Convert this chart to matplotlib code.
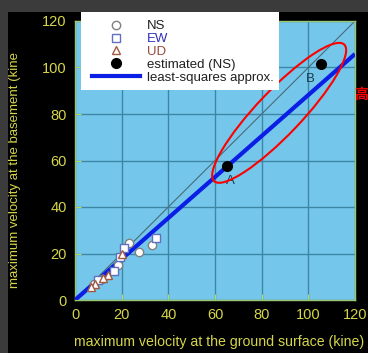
import matplotlib
matplotlib.use("Agg")
import matplotlib.pyplot as plt
from matplotlib.patches import Ellipse, Rectangle
from matplotlib.lines import Line2D

plt.rcParams['font.family'] = ['Liberation Sans', 'DejaVu Sans', 'Noto Sans CJK SC']

# data
ns_x = [23.0, 27.5, 33.0, 18.3, 11.5, 8.0]
ns_y = [24.5, 20.6, 23.5, 15.2, 9.0, 7.0]
ew_x = [21.0, 34.8, 19.4, 16.5, 10.0]
ew_y = [22.5, 26.5, 18.5, 12.3, 8.5]
ud_x = [20.0, 14.0, 12.0, 8.5, 6.8]
ud_y = [20.0, 10.8, 9.5, 7.0, 5.5]
est_x = [65.2, 105.4]
est_y = [57.8, 101.5]
est_labels = ['A', 'B']
ls_x = [0, 120]
ls_y = [0, 105.8]
ref_x = [0, 120]
ref_y = [0, 120]
ticks = [0, 20, 40, 60, 80, 100, 120]

W, H = 368, 353
fig = plt.figure(figsize=(W/100, H/100), dpi=100, facecolor='black')
ax = fig.add_axes([75/W, 1-300/H, 280/W, 279/H])
ax.set_facecolor('#74c7ea')
ax.set_xlim(0, 120)
ax.set_ylim(0, 120)
ax.set_xticks(ticks)
ax.set_yticks(ticks)
yellow = '#d6d64a'
ax.tick_params(colors='#b8d860', labelcolor=yellow, direction='in', length=4,
               labelsize=10.5, pad=6)
for s in ax.spines.values():
    s.set_color('#9cc870')
    s.set_linewidth(1)
ax.grid(True, color='#3e86a6', lw=1)
ax.set_axisbelow(True)

ax.plot(ref_x, ref_y, color='#4a6a78', lw=0.8, zorder=2)
ax.plot(ls_x, ls_y, color='#0a1ee6', lw=3, zorder=3, solid_capstyle='butt')
ax.plot(ns_x, ns_y, 'o', ms=6, mfc='white', mec='#808080', mew=1, zorder=4)
ax.plot(ew_x, ew_y, 's', ms=6, mfc='white', mec='#6070c0', mew=1, zorder=4)
ax.plot(ud_x, ud_y, '^', ms=6, mfc='white', mec='#a05a40', mew=1, zorder=4)
ax.plot(est_x, est_y, 'o', ms=7, color='black', zorder=5)
for x, y, t in zip(est_x, est_y, est_labels):
    ax.text(x + 1.5 if t == 'A' else x - 4.5, y - 6.5, t, color='#1c3c4c', fontsize=9.5,
            ha='center', va='center', zorder=5)

ell = Ellipse((87.5, 80.5), 81, 19, angle=46.5, fill=False, ec='red', lw=1.5, zorder=6)
ax.add_patch(ell)

# legend
fig.patches.append(Rectangle((81/W, 1-90/H), 198/W, 90/H, transform=fig.transFigure,
                             facecolor='white', edgecolor='none', zorder=2))
handles = [
    Line2D([], [], ls='none', marker='o', ms=6, mfc='white', mec='#808080'),
    Line2D([], [], ls='none', marker='s', ms=6, mfc='white', mec='#6070c0'),
    Line2D([], [], ls='none', marker='^', ms=6, mfc='white', mec='#a05a40'),
    Line2D([], [], ls='none', marker='o', ms=7, color='black'),
    Line2D([], [], color='#0a1ee6', lw=3),
]
labels = ['NS', 'EW', 'UD', 'estimated (NS)', 'least-squares approx.']
leg = fig.legend(handles, labels, loc='upper left', bbox_to_anchor=(92/W, 1-20/H),
                 frameon=False, fontsize=9.5, labelspacing=0.05, handlelength=3.6,
                 handletextpad=0.55, borderpad=0, borderaxespad=0)
leg.set_zorder(7)
cols = ['#202020', '#3030c0', '#9a4a3a', '#202020', '#202020']
for t, c in zip(leg.get_texts(), cols):
    t.set_color(c)

fig.text(219/W, 1-342/H, 'maximum velocity at the ground surface (kine)', color=yellow,
         fontsize=10.2, ha='center', va='center')
fig.text(15/W, 1-288/H, 'maximum velocity at the basement (kine', color=yellow,
         fontsize=9.5, ha='center', va='bottom', rotation=90)
fig.text(354/W, 1-95/H, '高', color='red', fontsize=10, fontweight='bold',
         ha='left', va='center', family=['Noto Sans CJK SC'])

# gray border strips
fig.patches.append(Rectangle((0, 1-12/H), 1, 12/H, transform=fig.transFigure,
                             facecolor='#3b3b3b', edgecolor='none', zorder=20))
fig.patches.append(Rectangle((0, 0), 8/W, 1, transform=fig.transFigure,
                             facecolor='#3b3b3b', edgecolor='none', zorder=20))

fig.savefig('out.png', dpi=100, facecolor='black')
